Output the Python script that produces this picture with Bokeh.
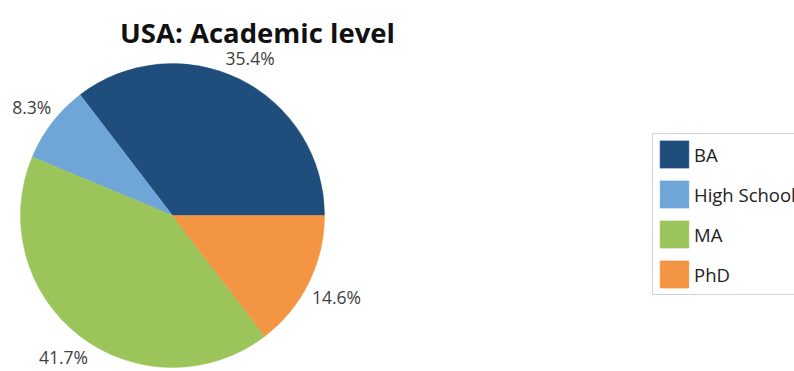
import math
from bokeh.plotting import figure
from bokeh.models import Range1d, Legend, LegendItem
from bokeh.core.properties import value
from bokeh.embed import file_html
from bokeh.resources import INLINE

title = "USA: Academic level"
categories = ["BA", "High School", "MA", "PhD"]
percents = [35.4, 8.3, 41.7, 14.6]
colors = ["#1f4e7c", "#6fa6d7", "#9bc55a", "#f39542"]

W, H = 794, 371
CX, CY, R = 172, 156, 152
FONT = "Open Sans"

p = figure(width=W, height=H, output_backend="svg", toolbar_location=None,
           x_range=Range1d(0, W), y_range=Range1d(0, H), min_border=0)
p.axis.visible = False
p.grid.visible = False
p.outline_line_color = None

total = sum(percents)
start = 0.0
renderers = []
lx, ly, lt = [], [], []
for cat, pct, col in zip(categories, percents, colors):
    a0 = start
    a1 = start + 2 * math.pi * pct / total
    start = a1
    r = p.wedge(x=CX, y=CY, radius=R, start_angle=a0, end_angle=a1,
                fill_color=col, line_color=col, line_width=0.5)
    renderers.append(r)
    mid = (a0 + a1) / 2
    txt = f"{pct:.1f}%"
    half_w = len(txt) * 5.0
    rr = R + 5 + abs(math.cos(mid)) * half_w + abs(math.sin(mid)) * 8
    lx.append(CX + rr * math.cos(mid))
    ly.append(CY + rr * math.sin(mid))
    lt.append(txt)

p.text(x=lx, y=ly, text=lt, text_align="center", text_baseline="middle",
       text_font=value(FONT), text_font_size="17.5px", text_color="#404040")

p.text(x=[257], y=[339], text=[title], text_align="center", text_baseline="alphabetic",
       text_font=value(FONT), text_font_size="27.5px", text_font_style="bold",
       text_color="#111111")

legend = Legend(items=[LegendItem(label=c, renderers=[r]) for c, r in zip(categories, renderers)],
                location=(652, 76), orientation="vertical",
                glyph_width=36, glyph_height=34, label_standoff=2, label_width=140,
                padding=3, spacing=6, margin=0,
                label_text_font=FONT, label_text_font_size="18.5px", label_text_color="#222222",
                border_line_color="#a6a6a6", border_line_width=1,
                background_fill_color="white", background_fill_alpha=1)
p.add_layout(legend, "center")

open("out.html", "w").write(file_html(p, INLINE))
